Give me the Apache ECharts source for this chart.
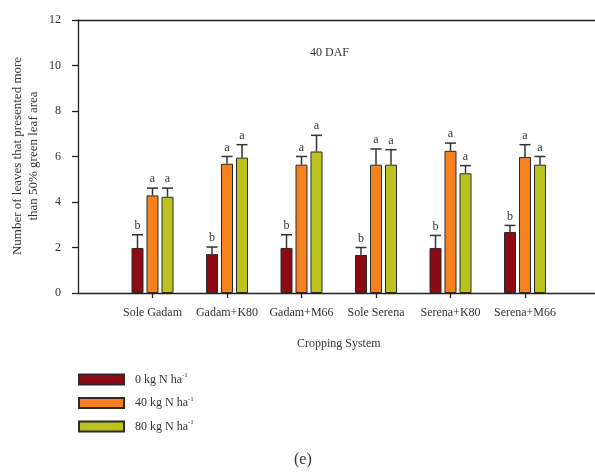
<!DOCTYPE html>
<html>
<head>
<meta charset="utf-8">
<script src="https://cdn.jsdelivr.net/npm/echarts@6/dist/echarts.min.js"></script>
<style>
html,body{margin:0;padding:0;background:#fff;}
#chart{width:595px;height:474px;}
</style>
</head>
<body>
<div id="chart"></div>
<script>
const categories = ['Sole Gadam', 'Gadam+K80', 'Gadam+M66', 'Sole Serena', 'Serena+K80', 'Serena+M66'];
const seriesNames = ['0 kg N ha', '40 kg N ha', '80 kg N ha'];
const n0 = [1.98, 1.71, 1.98, 1.67, 1.98, 2.68];
const n0Err = [0.58, 0.31, 0.58, 0.33, 0.55, 0.29];
const n40 = [4.29, 5.68, 5.64, 5.64, 6.25, 5.98];
const n40Err = [0.32, 0.32, 0.36, 0.69, 0.34, 0.54];
const n80 = [4.23, 5.95, 6.22, 5.64, 5.26, 5.64];
const n80Err = [0.38, 0.57, 0.71, 0.66, 0.34, 0.36];
const n0Letters = ['b', 'b', 'b', 'b', 'b', 'b'];
const n40Letters = ['a', 'a', 'a', 'a', 'a', 'a'];
const n80Letters = ['a', 'a', 'a', 'a', 'a', 'a'];
const yTicks = [0, 2, 4, 6, 8, 10, 12];
const yTitle = 'Number of leaves that presented more\nthan 50% green leaf area';

const FONT = 'Liberation Serif';
const TXT = '#333';
const LINE = '#222';
const colors = ['#8C0A14', '#F5821F', '#BDC31E'];

const axisCats = [''].concat(categories, ['']);
const pad = arr => [null].concat(arr, [null]);
const means = [n0, n40, n80];
const errs = [n0Err, n40Err, n80Err];
const letters = [n0Letters, n40Letters, n80Letters];
const offsets = [-15, 0, 15];

const chart = echarts.init(document.getElementById('chart'));

const barSeries = seriesNames.map((name, i) => ({
  name: name,
  type: 'bar',
  xAxisIndex: 0,
  barWidth: 12,
  barGap: '25%',
  data: pad(means[i]),
  itemStyle: { color: colors[i], borderColor: '#2a2a2a', borderWidth: 1 },
  z: 2
}));

const errSeries = seriesNames.map((name, i) => ({
  type: 'custom',
  xAxisIndex: 0,
  z: 3,
  silent: true,
  data: means[i].map((m, k) => [k + 1, m, m + errs[i][k]]),
  renderItem: function (params, api) {
    const x = api.coord([api.value(0), api.value(1)])[0] + offsets[i];
    const yTop = api.coord([api.value(0), api.value(1)])[1];
    const yUp = api.coord([api.value(0), api.value(2)])[1];
    const letter = letters[i][params.dataIndex];
    return {
      type: 'group',
      children: [
        { type: 'line', shape: { x1: x, y1: yTop, x2: x, y2: yUp }, style: { stroke: '#333', lineWidth: 1.5 } },
        { type: 'line', shape: { x1: x - 5.5, y1: yUp, x2: x + 5.5, y2: yUp }, style: { stroke: '#333', lineWidth: 1.5 } },
        { type: 'text', x: x, y: yUp - 3, style: { text: letter, fill: TXT, font: '12px ' + FONT, textAlign: 'center', textVerticalAlign: 'bottom' } }
      ]
    };
  }
}));

const option = {
  animation: false,
  backgroundColor: '#fff',
  grid: { left: 78, top: 20, bottom: 181, right: -4.5, containLabel: false, outerBoundsMode: 'none' },
  legend: {
    data: seriesNames,
    orient: 'vertical',
    left: 78,
    top: 372,
    padding: 0,
    itemWidth: 45,
    itemHeight: 10,
    itemGap: 10,
    icon: 'rect',
    selectedMode: false,
    formatter: function (name) { return '{t|' + name + '}{s|-1}'; },
    textStyle: {
      padding: [0, 0, 0, 6],
      rich: {
        t: { fontFamily: FONT, fontSize: 12, color: TXT },
        s: { fontFamily: FONT, fontSize: 7, color: TXT, verticalAlign: 'top', padding: [0, 0, 8, 0] }
      }
    }
  },
  xAxis: [
    {
      type: 'category',
      data: axisCats,
      boundaryGap: false,
      position: 'bottom',
      name: 'Cropping System',
      nameLocation: 'middle',
      nameGap: 45,
      nameTextStyle: { fontFamily: FONT, fontSize: 12, color: TXT },
      axisLine: { lineStyle: { color: LINE, width: 1.3 } },
      axisTick: { length: 5, interval: function (idx) { return idx > 0 && idx < axisCats.length - 1; }, lineStyle: { color: LINE, width: 1.3 } },
      axisLabel: { interval: 0, margin: 14, fontFamily: FONT, fontSize: 12, color: TXT },
      splitLine: { show: false }
    },
    {
      type: 'category',
      data: axisCats,
      boundaryGap: false,
      position: 'top',
      axisLine: { lineStyle: { color: LINE, width: 1.3 } },
      axisTick: { show: false },
      axisLabel: { show: false },
      splitLine: { show: false }
    }
  ],
  yAxis: {
    type: 'value',
    min: yTicks[0],
    max: yTicks[yTicks.length - 1],
    interval: 2,
    axisLine: { show: true, lineStyle: { color: LINE, width: 1.3 } },
    axisTick: { show: true, length: 6, lineStyle: { color: LINE, width: 1.3 } },
    axisLabel: { margin: 17, fontFamily: FONT, fontSize: 12, color: TXT },
    splitLine: { show: false }
  },
  graphic: [
    { type: 'text', x: 26, y: 156, rotation: Math.PI / 2, style: { text: yTitle, font: '13px ' + FONT, lineHeight: 16, fill: TXT, textAlign: 'center', textVerticalAlign: 'middle' } },
    { type: 'text', left: 310, top: 47, style: { text: '40 DAF', font: '12px ' + FONT, fill: TXT } },
    { type: 'text', left: 294, top: 452, style: { text: '(e)', font: '16px ' + FONT, fill: TXT } }
  ],
  series: barSeries.concat(errSeries)
};

chart.setOption(option);
</script>
</body>
</html>
